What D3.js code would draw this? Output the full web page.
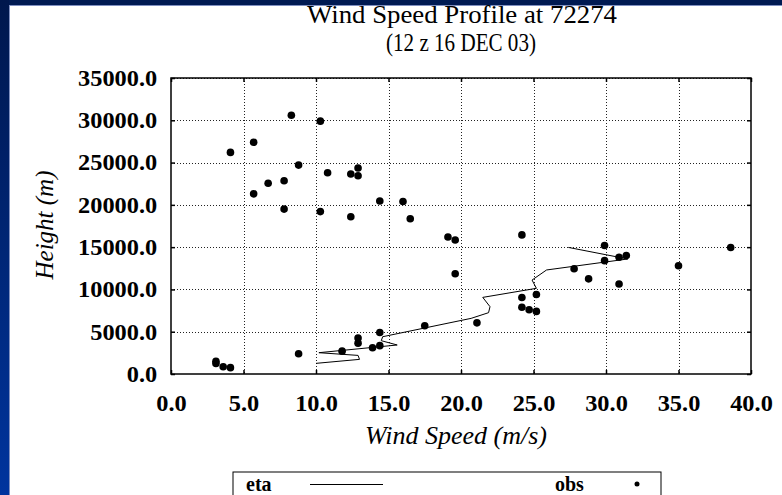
<!DOCTYPE html>
<html>
<head>
<meta charset="utf-8">
<script src="https://cdn.jsdelivr.net/npm/d3@7"></script>
<style>
  body { margin: 0; background: #fff; }
  svg text { font-family: "Liberation Serif", "Times New Roman", serif; fill: #000; }
</style>
</head>
<body>
<div id="chart"></div>
<script>
// observed winds (rawinsonde)
const obsSpeed = [8.3, 10.3, 5.7, 4.1, 8.8, 10.8, 12.4, 12.9, 12.9, 6.7, 7.8, 5.7, 14.4, 16.0, 7.8, 10.3, 12.4, 16.5,
  19.1, 19.6, 24.2, 19.6, 29.9, 31.4, 30.9, 29.9, 27.8, 28.8, 30.9, 35.0, 38.6, 24.2, 25.2, 24.2, 24.7, 25.2,
  21.1, 17.5, 14.4, 12.9, 12.9, 14.4, 13.9, 11.8, 8.8, 3.1, 3.1, 3.6, 4.1];
const obsHeight = [30600, 29900, 27400, 26200, 24700, 23800, 23650, 24350, 23450, 22550, 22850, 21300, 20450, 20400,
  19500, 19200, 18600, 18350, 16200, 15850, 16450, 11850, 15200, 14000, 13800, 13400, 12450, 11250, 10650, 12800,
  14950, 9050, 9400, 7900, 7600, 7400, 6050, 5700, 4900, 4250, 3650, 3350, 3100, 2700, 2400, 1500, 1250, 850, 750];

// eta model profile
const etaSpeed = [10.0, 13.0, 12.9, 10.2, 15.6, 14.5, 14.6, 20.7, 21.9, 22.0, 21.5, 25.2, 24.9, 25.9, 31.5, 27.4];
const etaHeight = [1260, 1730, 2200, 2520, 3430, 3940, 4410, 6580, 7250, 7960, 9060, 10130, 11110, 12300, 13600, 14970];

const xTicks = [0, 5, 10, 15, 20, 25, 30, 35, 40];
const yTicks = [0, 5000, 10000, 15000, 20000, 25000, 30000, 35000];

const W = 782, H = 495;
const pLeft = 171, pRight = 751, pTop = 78, pBottom = 374;

const svg = d3.select('#chart').append('svg')
  .attr('width', W)
  .attr('height', H);

// slide frame
const defs = svg.append('defs');
const grad = defs.append('linearGradient').attr('id', 'side').attr('x1', 0).attr('y1', 0).attr('x2', 0).attr('y2', 1);
grad.append('stop').attr('offset', '0%').attr('stop-color', '#00174d');
grad.append('stop').attr('offset', '100%').attr('stop-color', '#00349e');

svg.append('rect').attr('x', 0).attr('y', 0).attr('width', W).attr('height', 5).attr('fill', '#001a52');
svg.append('rect').attr('x', 0).attr('y', 0).attr('width', 9).attr('height', H).attr('fill', 'url(#side)');
svg.append('line').attr('x1', 9.5).attr('x2', 9.5).attr('y1', 5).attr('y2', H).attr('stroke', '#7f8fc0');
svg.append('line').attr('x1', 9).attr('x2', W).attr('y1', 5.5).attr('y2', 5.5).attr('stroke', '#7f8fc0');

const x = d3.scaleLinear().domain([0, 40]).range([pLeft, pRight]);
const y = d3.scaleLinear().domain([0, 35000]).range([pBottom, pTop]);

// grid
const grid = svg.append('g');
grid.selectAll('.gx')
  .data(xTicks.slice(1, -1))
  .enter()
  .append('line')
  .attr('x1', d => Math.round(x(d)) + 0.5)
  .attr('x2', d => Math.round(x(d)) + 0.5)
  .attr('y1', pTop)
  .attr('y2', pBottom)
  .attr('stroke', '#222')
  .attr('stroke-dasharray', '1,2');
grid.selectAll('.gy')
  .data(yTicks.slice(1))
  .enter()
  .append('line')
  .attr('x1', pLeft)
  .attr('x2', pRight)
  .attr('y1', d => Math.round(y(d)) + 0.5)
  .attr('y2', d => Math.round(y(d)) + 0.5)
  .attr('stroke', '#222')
  .attr('stroke-dasharray', '1,2');

// axes with inward ticks
const fmt = d3.format('.1f');
const xAxis = svg.append('g')
  .attr('transform', `translate(0,${pBottom})`)
  .call(d3.axisBottom(x).tickValues(xTicks).tickSize(-4).tickPadding(21).tickFormat(fmt));
const yAxis = svg.append('g')
  .attr('transform', `translate(${pLeft},0)`)
  .call(d3.axisLeft(y).tickValues(yTicks).tickSize(-4).tickPadding(13).tickFormat(fmt));
svg.append('g')
  .attr('transform', `translate(0,${pTop})`)
  .call(d3.axisTop(x).tickValues(xTicks).tickSize(-4).tickFormat(''));
svg.append('g')
  .attr('transform', `translate(${pRight},0)`)
  .call(d3.axisRight(y).tickValues(yTicks).tickSize(-4).tickFormat(''));

svg.selectAll('.domain').remove();
svg.selectAll('.tick line').attr('stroke', '#000').attr('stroke-width', 1.5);
// the source type runs a little wider than Liberation Serif
[xAxis, yAxis].forEach(a => a.selectAll('text')
  .attr('font-family', '"Liberation Serif", serif')
  .attr('font-size', 23)
  .attr('font-weight', 'bold')
  .attr('transform', 'scale(1.06,1)'));

svg.append('rect')
  .attr('x', pLeft)
  .attr('y', pTop)
  .attr('width', pRight - pLeft)
  .attr('height', pBottom - pTop)
  .attr('fill', 'none')
  .attr('stroke', '#000')
  .attr('stroke-width', 1.5);

// eta line
const line = d3.line().x(i => x(etaSpeed[i])).y(i => y(etaHeight[i]));
svg.append('path')
  .attr('d', line(d3.range(etaSpeed.length)))
  .attr('fill', 'none')
  .attr('stroke', '#000')
  .attr('stroke-width', 1);

// obs points
svg.selectAll('.obs')
  .data(d3.range(obsSpeed.length))
  .enter()
  .append('circle')
  .attr('class', 'obs')
  .attr('cx', i => x(obsSpeed[i]))
  .attr('cy', i => y(obsHeight[i]))
  .attr('r', 3.8)
  .attr('fill', '#000');

// titles
const mid = (pLeft + pRight) / 2;
svg.append('text').attr('x', mid + 1).attr('y', 23).attr('text-anchor', 'middle')
  .attr('font-size', 25).attr('textLength', 310).attr('lengthAdjust', 'spacingAndGlyphs')
  .text('Wind Speed Profile at 72274');
svg.append('text').attr('x', mid).attr('y', 51).attr('text-anchor', 'middle')
  .attr('font-size', 25).attr('textLength', 150).attr('lengthAdjust', 'spacingAndGlyphs')
  .text('(12 z 16 DEC 03)');
svg.append('text').attr('x', mid - 5).attr('y', 444).attr('text-anchor', 'middle')
  .attr('font-size', 26).attr('font-style', 'italic').text('Wind Speed (m/s)');
svg.append('text').attr('transform', 'translate(53,225) rotate(-90)').attr('text-anchor', 'middle')
  .attr('font-size', 25).attr('font-style', 'italic').text('Height (m)');

// legend
const lg = svg.append('g').attr('transform', 'translate(233,472)');
lg.append('rect').attr('x', 0).attr('y', 0).attr('width', 428).attr('height', 40)
  .attr('fill', '#fff').attr('stroke', '#000').attr('stroke-width', 1);
lg.append('text').attr('x', 13).attr('y', 19).attr('font-size', 20).attr('font-weight', 'bold').text('eta');
lg.append('line').attr('x1', 77).attr('x2', 150).attr('y1', 12.5).attr('y2', 12.5).attr('stroke', '#000');
lg.append('text').attr('x', 322).attr('y', 19).attr('font-size', 20).attr('font-weight', 'bold').text('obs');
lg.append('circle').attr('cx', 404).attr('cy', 12).attr('r', 2.5).attr('fill', '#000');
</script>
</body>
</html>
